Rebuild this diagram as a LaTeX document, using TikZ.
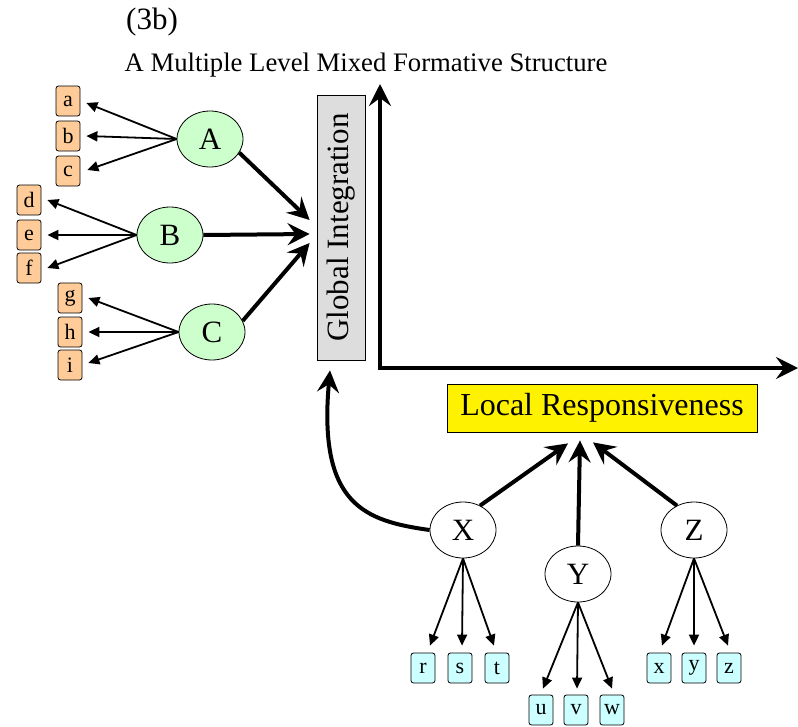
\documentclass[tikz,border=0pt]{standalone}
\usepackage{fontspec}
\setmainfont{Liberation Serif}
\usetikzlibrary{arrows.meta,calc,shapes.geometric}
\definecolor{leaforange}{HTML}{FFCC99}
\definecolor{leafcyan}{HTML}{CCFFFF}
\definecolor{unitgreen}{HTML}{CCFFCC}
\definecolor{panelgray}{HTML}{DDDDDD}
\tikzset{
  leafbox/.style={draw=black, line width=0.8pt, rounded corners=2.5pt, minimum width=24pt, minimum height=30pt, inner sep=0pt, font=\fontsize{22}{22}\selectfont},
  obox/.style={leafbox, fill=leaforange},
  cbox/.style={leafbox, fill=leafcyan},
  unit/.style={ellipse, draw=black, line width=0.8pt, minimum width=66pt, minimum height=56pt, inner sep=0pt, font=\fontsize{31}{31}\selectfont},
  gunit/.style={unit, fill=unitgreen},
  wunit/.style={unit, fill=white},
  thin/.style={line width=1.8pt, -{Triangle[length=11pt,width=10pt]}},
  thick/.style={line width=4pt, -{Stealth[length=22pt,width=22pt,inset=8pt]}},
  axis/.style={line width=4pt, {Stealth[length=22pt,width=22pt,inset=8pt]}-{Stealth[length=22pt,width=22pt,inset=8pt]}},
}
\begin{document}
\begin{tikzpicture}[x=1pt,y=-1pt]
\useasboundingbox (0,0) rectangle (798,726);

% headings
\node (lbl) at (152,22) {\fontsize{31}{31}\selectfont (3b)};
\node (ttl) at (366,65) {\fontsize{26.7}{26.7}\selectfont A Multiple Level Mixed Formative Structure};

% the two axes
\node[draw=black, line width=0.8pt, fill=panelgray, minimum width=265pt, minimum height=48pt, inner sep=0pt, rotate=90, font=\fontsize{31}{31}\selectfont] (G) at (341,227.5) {Global Integration};
\node[draw=black, line width=0.8pt, fill=yellow, minimum width=310pt, minimum height=48pt, inner sep=0pt, font=\fontsize{32}{32}\selectfont] (L) at (602,408) {Local Responsiveness};
\coordinate (top) at (380,84);
\coordinate (corner) at (380,368);
\coordinate (right) at (798,368);
\draw[axis] (top) -- (corner) -- (right);

% global units and their leaves
\node[gunit] (A) at (210,139) {A};
\node[gunit] (B) at (170,235) {B};
\node[gunit] (C) at (212,332) {C};
\node[obox] (a) at (68,101) {a};
\node[obox] (b) at (68,136) {b};
\node[obox] (c) at (68,171) {c};
\node[obox] (d) at (29,200) {d};
\node[obox] (e) at (29,235) {e};
\node[obox] (f) at (29,268) {f};
\node[obox] (g) at (70,298) {g};
\node[obox] (h) at (70,332) {h};
\node[obox] (i) at (70,365) {i};

\draw[thin] (A.west) -- ($(a.east)+(6,2)$);
\draw[thin] (A.west) -- ($(b.east)+(6,0)$);
\draw[thin] (A.west) -- ($(c.east)+(7,-1)$);
\draw[thin] (B.west) -- ($(d.east)+(6,0)$);
\draw[thin] (B.west) -- ($(e.east)+(6,0)$);
\draw[thin] (B.west) -- ($(f.east)+(6,0)$);
\draw[thin] (C.west) -- ($(g.east)+(6,0)$);
\draw[thin] (C.west) -- ($(h.east)+(6,0)$);
\draw[thin] (C.west) -- ($(i.east)+(6,-2)$);

\draw[thick] (A.-25) -- ($(G.north)+(-7,-7.5)$);
\draw[thick] (B.east) -- ($(G.north)+(-7,6.5)$);
\draw[thick] (C.20) -- ($(G.north)+(-7,15.5)$);

% local units and their leaves
\node[wunit] (X) at (463,530) {X};
\node[wunit] (Y) at (578,574) {Y};
\node[wunit] (Z) at (694,530) {Z};
\node[cbox] (r) at (423,668) {r};
\node[cbox] (s) at (460,668) {s};
\node[cbox] (t) at (497,668) {t};
\node[cbox] (u) at (541,710) {u};
\node[cbox] (v) at (576,710) {v};
\node[cbox] (w) at (612,710) {w};
\node[cbox] (x) at (659,668) {x};
\node[cbox] (y) at (694,668) {y};
\node[cbox] (z) at (729,668) {z};

\draw[thin] (X.south) -- ($(r.north)+(7,-7)$);
\draw[thin] (X.south) -- ($(s.north)+(2,-7)$);
\draw[thin] (X.south) -- ($(t.north)+(-3,-7)$);
\draw[thin] (Y.south) -- ($(u.north)+(2,-6)$);
\draw[thin] (Y.south) -- ($(v.north)+(1,-6)$);
\draw[thin] (Y.south) -- ($(w.north)+(0,-6)$);
\draw[thin] (Z.south) -- ($(x.north)+(3,-7)$);
\draw[thin] (Z.south) -- ($(y.north)+(0,-7)$);
\draw[thin] (Z.south) -- ($(z.north)+(-1,-7)$);

\draw[thick] (X.55) -- ($(L.south)+(-34,11)$);
\draw[thick] (Y.north) -- ($(L.south)+(-22,8)$);
\draw[thick] (Z.125) -- ($(L.south)+(-9,10)$);
\draw[thick] (X.west) .. controls (365,521) and (318,505) .. ($(G.west)+(-11,10)$);
\end{tikzpicture}
\end{document}
